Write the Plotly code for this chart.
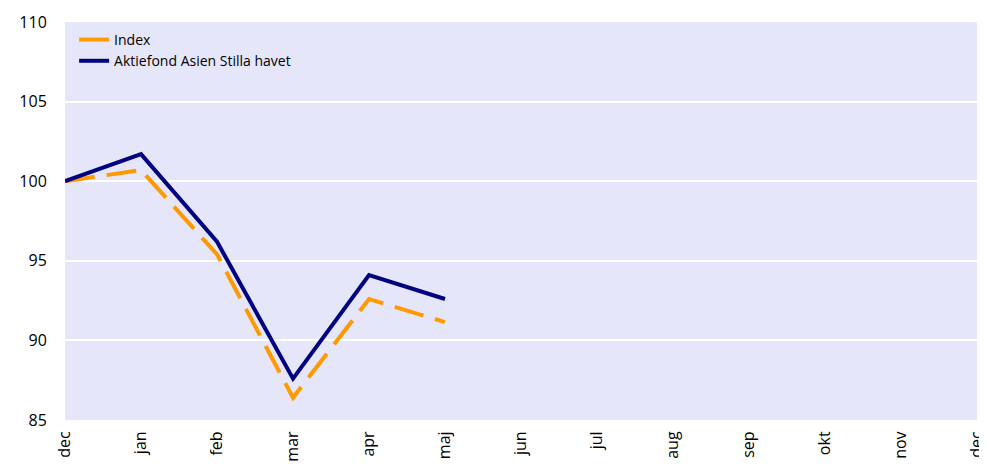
import plotly.graph_objects as go

# ── データ ─────────────────────────────────────────────
months = ['dec', 'jan', 'feb', 'mar', 'apr', 'maj', 'jun', 'jul', 'aug', 'sep', 'okt', 'nov', 'dec']
index_vals = [100.0, 100.7, 95.4, 86.4, 92.6, 91.15]
fund_vals = [100.0, 101.7, 96.2, 87.6, 94.1, 92.6]

x_pos = list(range(len(months)))

fig = go.Figure()
fig.add_trace(go.Scatter(
    x=x_pos[:len(index_vals)], y=index_vals, mode='lines', name='Index',
    line=dict(color='#FF9900', width=4, dash='30px,12px'),
))
fig.add_trace(go.Scatter(
    x=x_pos[:len(fund_vals)], y=fund_vals, mode='lines', name='Aktiefond Asien Stilla havet',
    line=dict(color='#000080', width=4),
))

# ページ本体の余白8pxを差し引いたサイズ
fig.update_layout(
    width=979, height=464,
    margin=dict(l=57, r=10, t=14, b=52),
    paper_bgcolor='white',
    plot_bgcolor='#E6E6FA',
    font=dict(family='Open Sans, Liberation Sans, sans-serif', size=15, color='black'),
    legend=dict(x=0.01, y=0.995, xanchor='left', yanchor='top',
                bgcolor='rgba(0,0,0,0)', font=dict(size=14), tracegroupgap=0),
    showlegend=True,
)
fig.update_xaxes(
    range=[-0.0005, 12.0005], tickmode='array', tickvals=x_pos, ticktext=months,
    tickangle=-90, showgrid=False, zeroline=False, showline=False,
    ticks='outside', ticklen=4, tickcolor='rgba(0,0,0,0)',
    tickfont=dict(size=16), automargin=False, ticklabeloverflow='allow',
)
fig.update_yaxes(
    range=[85, 110], tickvals=[85, 90, 95, 100, 105, 110],
    showgrid=True, gridcolor='white', gridwidth=2, zeroline=False,
    ticks='outside', ticklen=14, tickcolor='rgba(0,0,0,0)',
    tickfont=dict(size=16), automargin=False,
)

fig.write_html('out.html')
